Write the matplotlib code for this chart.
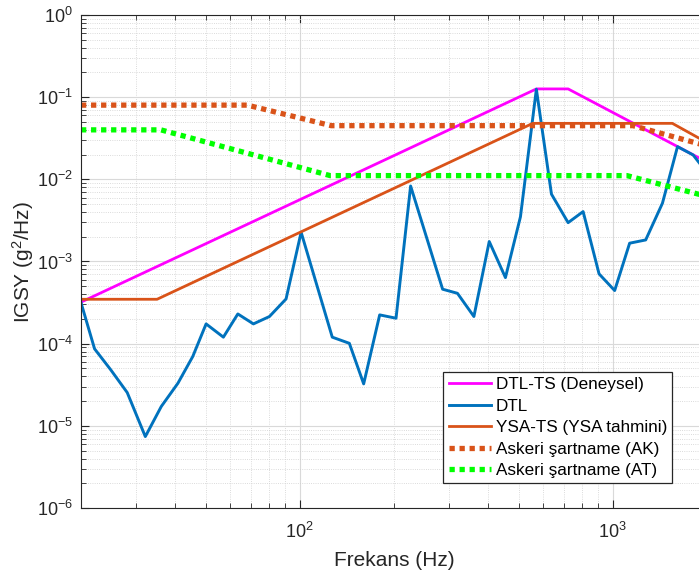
import matplotlib.pyplot as plt
import numpy as np

plt.rcParams['font.family'] = ['Liberation Sans', 'DejaVu Sans']
plt.rcParams['mathtext.default'] = 'regular'

# DTL-TS (Deneysel)
f_ts = [20, 570, 720, 2000]
g_ts = [3.2e-4, 0.126, 0.126, 0.0162]

# DTL (measured)
f_dtl = [20, 22.1, 24.9, 28.1, 32.1, 36.1, 40.8, 45.5, 50.2, 57.0, 63.4, 71.1, 80,
         90.4, 101, 127, 144, 160, 180, 203, 226, 286, 319, 360, 403, 454, 507,
         570, 637, 720, 804, 904, 1014, 1132, 1274, 1441, 1610, 1806, 2000]
g_dtl = [3.16e-4, 8.65e-5, 4.8e-5, 2.54e-5, 7.4e-6, 1.72e-5, 3.3e-5, 6.97e-5,
         1.74e-4, 1.2e-4, 2.3e-4, 1.74e-4, 2.14e-4, 3.5e-4, 2.27e-3, 1.2e-4,
         1.01e-4, 3.24e-5, 2.24e-4, 2.04e-4, 8.3e-3, 4.6e-4, 4.1e-4, 2.14e-4,
         1.75e-3, 6.37e-4, 3.5e-3, 0.125, 6.6e-3, 2.97e-3, 4.05e-3, 7.07e-4,
         4.43e-4, 1.67e-3, 1.83e-3, 5.12e-3, 0.025, 0.0198, 0.012]

# YSA-TS (YSA tahmini)
f_ysa = [20, 35, 555, 1550, 2000]
g_ysa = [3.47e-4, 3.47e-4, 0.048, 0.048, 0.028]

# Askeri sartname (AK)
f_ak = [20, 68, 126, 1160, 2000]
g_ak = [0.08, 0.08, 0.045, 0.045, 0.0255]

# Askeri sartname (AT)
f_at = [20, 36, 125, 1110, 2000]
g_at = [0.04, 0.04, 0.0111, 0.0111, 0.0062]

xticks = [100, 1000]
yticks = [1e-6, 1e-5, 1e-4, 1e-3, 1e-2, 1e-1, 1]

fig = plt.figure(figsize=(6.99, 5.74), dpi=100)
ax = fig.add_axes([81/699, 66/574, (707-81)/699, (508-15)/574])

ax.plot(f_ts, g_ts, color='#FF00FF', lw=2, label='DTL-TS (Deneysel)')
ax.plot(f_dtl, g_dtl, color='#0072BD', lw=2.1, label='DTL')
ax.plot(f_ysa, g_ysa, color='#D95319', lw=2, label='YSA-TS (YSA tahmini)')
ax.plot(f_ak, g_ak, color='#D95319', lw=3.8, linestyle=(0, (1, 0.9)),
        label='Askeri şartname (AK)')
ax.plot(f_at, g_at, color='#00FF00', lw=3.8, linestyle=(0, (1, 0.9)),
        label='Askeri şartname (AT)')

ax.set_xscale('log')
ax.set_yscale('log')
ax.set_xticks(xticks)
ax.set_yticks(yticks)
ax.set_xlim(20, 2000)
ax.set_ylim(1e-6, 1)

ax.grid(True, which='major', color='#d9d9d9', lw=0.8)
ax.grid(True, which='minor', color='#cfcfcf', lw=0.6, linestyle=':')
ax.set_axisbelow(True)

ax.tick_params(which='both', direction='in', top=True, right=True,
               colors='#262626', labelsize=13)
ax.tick_params(which='major', length=6)
ax.tick_params(which='minor', length=3.5)
ax.tick_params(axis='x', which='major', pad=10)
ax.tick_params(axis='y', which='major', pad=6)
for s in ax.spines.values():
    s.set_color('#262626')
    s.set_linewidth(0.8)

ax.set_xlabel('Frekans (Hz)', fontsize=15, color='#262626')
ax.set_ylabel('IGSY (g$^{2}$/Hz)', fontsize=15, color='#262626')
ax.xaxis.set_label_coords(0.5, -(551 - 508) / 493)
ax.yaxis.set_label_coords(-(81 - 36) / 626, 0.5)

leg = ax.legend(loc='upper right', bbox_to_anchor=(672/699, 1 - 372/574),
                bbox_transform=fig.transFigure, fontsize=12.3, fancybox=False,
                framealpha=1, edgecolor='#262626', borderpad=0.3,
                labelspacing=0.38, handlelength=2.5, handletextpad=0.25,
                borderaxespad=0)
leg.get_frame().set_linewidth(0.9)

fig.savefig('out.png', dpi=100)
